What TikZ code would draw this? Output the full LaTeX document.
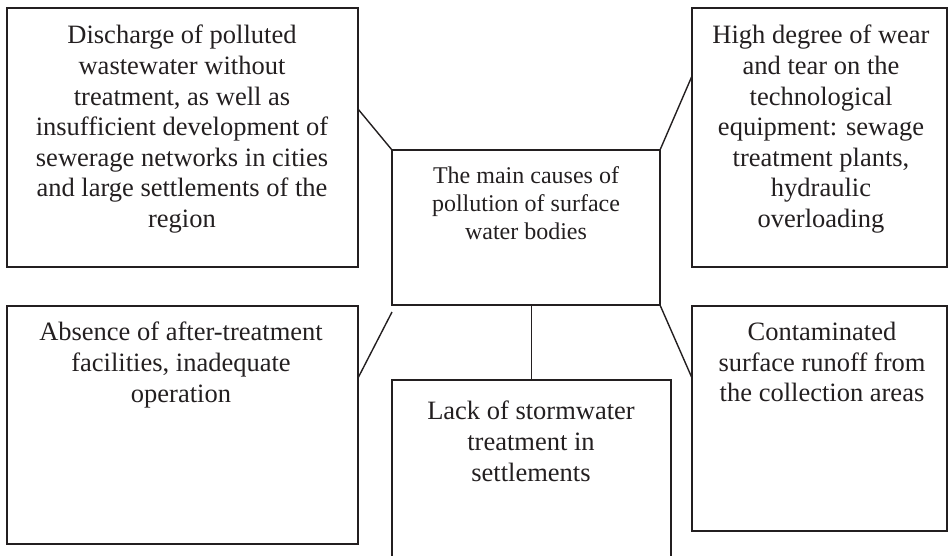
\documentclass[tikz,border=0pt]{standalone}
\usepackage{fontspec}
\setmainfont{Liberation Serif}
\definecolor{ink}{HTML}{231F20}
\begin{document}
\begin{tikzpicture}[x=1pt,y=-1pt,
  box/.style={draw=ink, line width=1.6pt, rectangle, inner sep=0pt, outer sep=0pt, anchor=north west},
  txt/.style={text=ink, align=center, anchor=north, inner sep=0pt, font=\fontsize{26.5}{30.6}\selectfont},
  ctxt/.style={text=ink, align=center, anchor=north, inner sep=0pt, font=\fontsize{24}{28.3}\selectfont},
  link/.style={draw=ink, line width=1.4pt}]
\useasboundingbox (0,0) rectangle (949,555);
\clip (0,0) rectangle (949,555);
% boxes
\node[box, minimum width=351pt, minimum height=259pt] (tl) at (7,8) {};
\node[box, minimum width=255pt, minimum height=259pt] (tr) at (692,8) {};
\node[box, minimum width=268pt, minimum height=155pt] (c) at (392,150) {};
\node[box, minimum width=351pt, minimum height=238pt] (bl) at (7,306) {};
\node[box, minimum width=279pt, minimum height=200pt] (bc) at (392,380) {};
\node[box, minimum width=255pt, minimum height=225pt] (br) at (692,306) {};
% texts
\node[txt] (tlt) at (182,25) {Discharge of polluted\\wastewater without\\treatment, as well as\\insufficient development of\\sewerage networks in cities\\and large settlements of the\\region};
\node[txt] (trt) at (821,25) {High degree of wear\\and tear on the\\technological\\equipment: sewage\\treatment plants,\\hydraulic\\overloading};
\node[ctxt] (ct) at (526,166) {The main causes of\\pollution of surface\\water bodies};
\node[txt] (blt) at (181,322) {Absence of after-treatment\\facilities, inadequate\\operation};
\node[txt] (bct) at (531,401) {Lack of stormwater\\treatment in\\settlements};
\node[txt] (brt) at (822,322) {Contaminated\\surface runoff from\\the collection areas};
% connectors
\coordinate (tlp) at (tl.north east |- 0,109);
\coordinate (trp) at (tr.north west |- 0,76);
\coordinate (blp) at (bl.north east |- 0,378);
\coordinate (brp) at (br.north west |- 0,378);
\coordinate (csw) at ([yshift=-7pt]c.south west);
\draw[link] (tlp) -- (c.north west);
\draw[link] (trp) -- (c.north east);
\draw[link] (csw) -- (blp);
\draw[link] (c.south east) -- (brp);
\draw[link] (bc.north) -- (bc.north |- c.south);
\end{tikzpicture}
\end{document}
